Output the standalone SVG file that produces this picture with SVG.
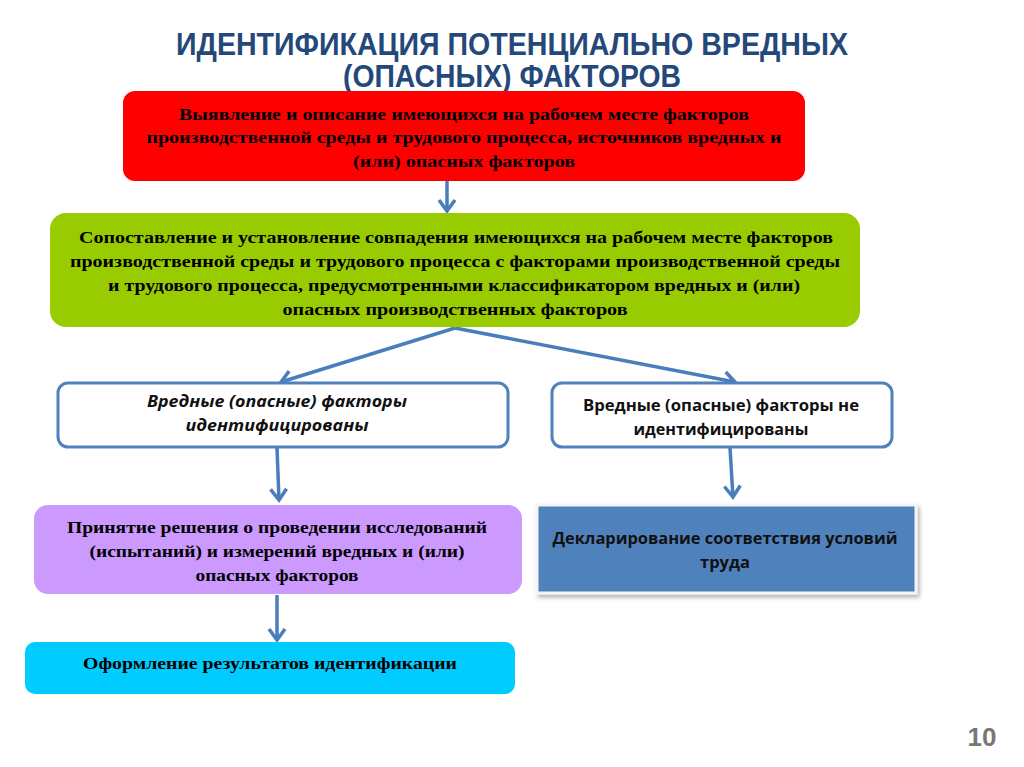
<svg xmlns="http://www.w3.org/2000/svg" width="1024" height="767" viewBox="0 0 1024 767">
<defs>
<style>
.title{font-family:"Liberation Sans Narrow","Liberation Sans",Arial,sans-serif;font-weight:bold;font-size:31px;fill:#24487A;text-anchor:middle}
.serif{font-family:"Liberation Serif","Times New Roman",serif;font-weight:bold;font-size:17px;fill:#000;text-anchor:middle}
.sans{font-family:"Open Sans","Liberation Sans",sans-serif;font-weight:bold;font-size:16px;fill:#111;text-anchor:middle}
.it{font-style:italic}
.conn{stroke:#4A7EBB;stroke-width:3.5;fill:none;marker-end:url(#ah)}
.wbox{fill:#fff;stroke:#4F81BD;stroke-width:3}
</style>
<marker id="ah" markerUnits="userSpaceOnUse" markerWidth="30" markerHeight="30" viewBox="-15 -15 30 30" refX="0" refY="0" orient="auto">
<path d="M-11,-8 L0,0 L-11,8" stroke="#4A7EBB" stroke-width="3.5" fill="none" stroke-linejoin="miter"/>
</marker>
<filter id="sh" x="-5%" y="-10%" width="115%" height="130%">
<feDropShadow dx="2" dy="3" stdDeviation="2" flood-color="#000" flood-opacity="0.3"/>
</filter>
</defs>
<rect width="1024" height="767" fill="#fff"/>
<g id="title">
<text class="title" x="512" y="55" textLength="672" lengthAdjust="spacingAndGlyphs">ИДЕНТИФИКАЦИЯ ПОТЕНЦИАЛЬНО ВРЕДНЫХ</text>
<text class="title" x="512" y="87" textLength="338" lengthAdjust="spacingAndGlyphs">(ОПАСНЫХ) ФАКТОРОВ</text>
</g>
<g id="connectors">
<line class="conn" x1="447" y1="181" x2="447" y2="211"/>
<line class="conn" x1="455" y1="328" x2="281" y2="382"/>
<line class="conn" x1="455" y1="328" x2="735" y2="382"/>
<line class="conn" x1="277" y1="448" x2="279" y2="500"/>
<line class="conn" x1="730" y1="448" x2="733" y2="497"/>
<line class="conn" x1="277" y1="595" x2="277" y2="640"/>
</g>
<g id="n1">
<rect x="123" y="91" width="682" height="90" rx="12" fill="#FF0000"/>
<text class="serif" x="464" y="120" textLength="570" lengthAdjust="spacingAndGlyphs">Выявление и описание имеющихся на рабочем месте факторов</text>
<text class="serif" x="464" y="143" textLength="635" lengthAdjust="spacingAndGlyphs">производственной среды и трудового процесса, источников вредных и</text>
<text class="serif" x="464" y="167" textLength="222" lengthAdjust="spacingAndGlyphs">(или) опасных факторов</text>
</g>
<g id="n2">
<rect x="50" y="213" width="810" height="114" rx="16" fill="#99CC00"/>
<text class="serif" x="456" y="243" textLength="754" lengthAdjust="spacingAndGlyphs" font-size="18">Сопоставление и установление совпадения имеющихся на рабочем месте факторов</text>
<text class="serif" x="455" y="267" textLength="770" lengthAdjust="spacingAndGlyphs" font-size="18">производственной среды и трудового процесса с факторами производственной среды</text>
<text class="serif" x="454" y="291" textLength="692" lengthAdjust="spacingAndGlyphs" font-size="18">и трудового процесса, предусмотренными классификатором вредных и (или)</text>
<text class="serif" x="455" y="315" textLength="345" lengthAdjust="spacingAndGlyphs" font-size="18">опасных производственных факторов</text>
</g>
<g id="n3">
<rect class="wbox" x="58" y="383" width="450" height="64" rx="10"/>
<text class="sans it" x="277" y="407" textLength="260" lengthAdjust="spacingAndGlyphs">Вредные (опасные) факторы</text>
<text class="sans it" x="277" y="431" textLength="183" lengthAdjust="spacingAndGlyphs">идентифицированы</text>
</g>
<g id="n4">
<rect class="wbox" x="552" y="383" width="340" height="64" rx="10"/>
<text class="sans" x="721" y="411" textLength="276" lengthAdjust="spacingAndGlyphs">Вредные (опасные) факторы не</text>
<text class="sans" x="721" y="435" textLength="175" lengthAdjust="spacingAndGlyphs">идентифицированы</text>
</g>
<g id="n5">
<rect x="34" y="505" width="488" height="89" rx="14" fill="#CC99FF"/>
<text class="serif" x="277" y="533" textLength="420" lengthAdjust="spacingAndGlyphs" font-size="18">Принятие решения о проведении исследований</text>
<text class="serif" x="277" y="557" textLength="375" lengthAdjust="spacingAndGlyphs" font-size="18">(испытаний) и измерений вредных и (или)</text>
<text class="serif" x="277" y="581" textLength="163" lengthAdjust="spacingAndGlyphs" font-size="18">опасных факторов</text>
</g>
<g id="n6">
<rect x="537" y="505" width="379" height="88" fill="#4F81BD" stroke="#f4f4f4" stroke-width="3" filter="url(#sh)"/>
<text class="sans" x="725" y="544" textLength="345" lengthAdjust="spacingAndGlyphs">Декларирование  соответствия условий</text>
<text class="sans" x="725" y="568" textLength="50" lengthAdjust="spacingAndGlyphs">труда</text>
</g>
<g id="n7">
<rect x="25" y="642" width="490" height="52" rx="10" fill="#00CCFF"/>
<text class="serif" x="270" y="669" textLength="374" lengthAdjust="spacingAndGlyphs" font-size="18">Оформление результатов идентификации</text>
</g>
<g id="page">
<text x="982" y="746" font-family="Liberation Sans,Arial,sans-serif" font-weight="bold" font-size="26" fill="#777" text-anchor="middle">10</text>
</g>
</svg>
